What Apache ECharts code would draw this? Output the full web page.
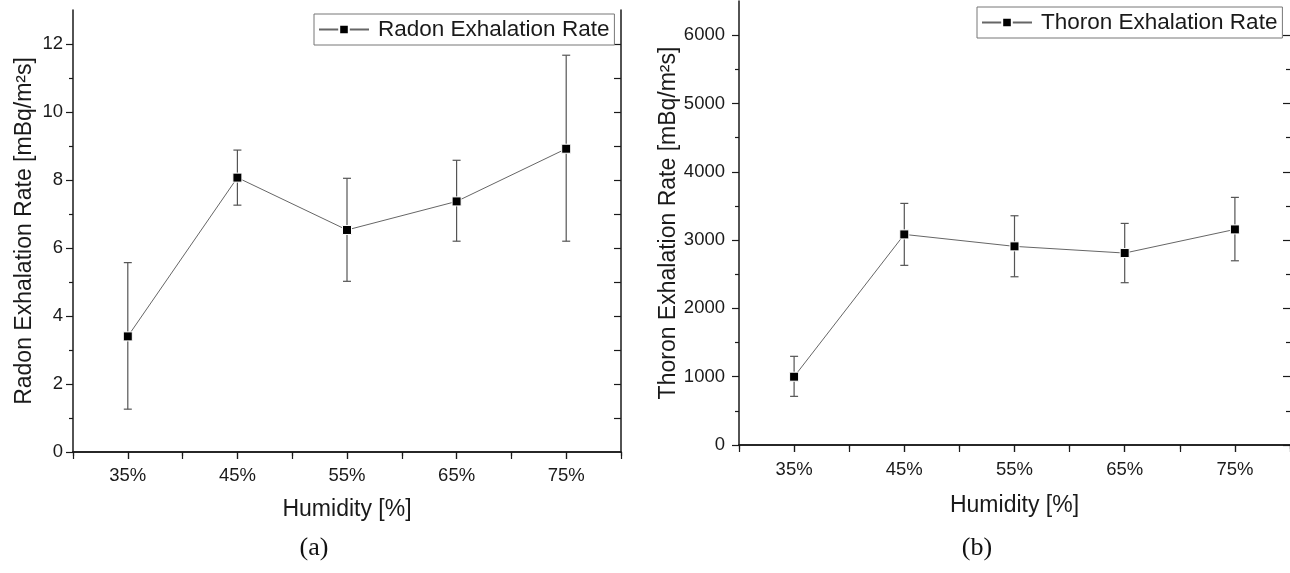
<!DOCTYPE html>
<html>
<head>
<meta charset="utf-8">
<script src="https://cdn.jsdelivr.net/npm/echarts@6/dist/echarts.min.js"></script>
<style>
  html, body { margin: 0; padding: 0; background: #fff; }
  #chart { width: 1290px; height: 573px; }
</style>
</head>
<body>
<div id="chart"></div>
<script>
// Humidity levels shared by both panels
const humidity = ['35%', '45%', '55%', '65%', '75%'];

// Panel (a): radon exhalation rate, mBq/m²s
const radonRate = [3.40, 8.07, 6.53, 7.37, 8.92];
const radonLow  = [1.26, 7.26, 5.02, 6.20, 6.20];
const radonHigh = [5.57, 8.88, 8.05, 8.58, 11.67];

// Panel (b): thoron exhalation rate, mBq/m²s
const thoronRate = [1000, 3083, 2908, 2810, 3156];
const thoronLow  = [712, 2630, 2463, 2376, 2697];
const thoronHigh = [1298, 3537, 3356, 3244, 3625];

// Tick values
const radonMajorTicks = [0, 2, 4, 6, 8, 10, 12];
const radonMinorTicks = [1, 3, 5, 7, 9, 11];
const radonRightTicks = [1, 2, 3, 4, 5, 6, 7, 8, 9, 10, 11, 12];
const thoronMajorTicks = [0, 1000, 2000, 3000, 4000, 5000, 6000];
const thoronMinorTicks = [500, 1500, 2500, 3500, 4500, 5500];

const FONT = '"Liberation Sans", Arial, sans-serif';
const AXIS_COLOR = '#1a1a1a';
const TEXT_COLOR = '#1a1a1a';
const TICK_FONT = 18.5;

function errorBarItem(params, api) {
  const x = api.value(0);
  const lo = api.coord([x, api.value(1)]);
  const hi = api.coord([x, api.value(2)]);
  const w = 4;
  const style = { stroke: '#555', lineWidth: 1.2 };
  return {
    type: 'group',
    children: [
      { type: 'line', shape: { x1: lo[0], y1: lo[1], x2: hi[0], y2: hi[1] }, style },
      { type: 'line', shape: { x1: lo[0] - w, y1: lo[1], x2: lo[0] + w, y2: lo[1] }, style },
      { type: 'line', shape: { x1: hi[0] - w, y1: hi[1], x2: hi[0] + w, y2: hi[1] }, style }
    ]
  };
}

const axisLine = { show: true, lineStyle: { color: AXIS_COLOR, width: 1.5 } };
const noLine = { show: false };
const plainNumber = (v) => String(v);

function xAxesFor(gridIndex, labelMargin, nameGap) {
  return [
    { // bottom: labels, ticks at category centres
      type: 'category', gridIndex, position: 'bottom', data: humidity, boundaryGap: true,
      axisLine,
      axisTick: { show: true, alignWithLabel: true, length: 7, lineStyle: { color: AXIS_COLOR, width: 1.2 } },
      axisLabel: { fontSize: TICK_FONT, color: TEXT_COLOR, fontFamily: FONT, margin: labelMargin },
      splitLine: { show: false },
      name: 'Humidity [%]', nameLocation: 'middle', nameGap,
      nameTextStyle: { fontSize: 23, color: TEXT_COLOR, fontFamily: FONT }
    },
    { // bottom: short ticks between categories
      type: 'value', gridIndex, position: 'bottom', min: 0, max: 5, interval: 1,
      axisLine: noLine,
      axisTick: { show: true, length: 4, lineStyle: { color: AXIS_COLOR, width: 1.2 } },
      axisLabel: { show: false }, splitLine: { show: false }
    },
    { // top frame with inward ticks
      type: 'value', gridIndex, position: 'top', min: 0, max: 10, interval: 1,
      axisLine,
      axisTick: { show: true, inside: true, length: 7, lineStyle: { color: AXIS_COLOR, width: 1.2 } },
      axisLabel: { show: false }, splitLine: { show: false }
    }
  ];
}

function legendFor(name, left, top) {
  return {
    data: [name], left, top, selectedMode: false,
    itemWidth: 50, itemHeight: 12, padding: [4, 5, 4, 4],
    borderColor: '#777', borderWidth: 1,
    textStyle: { fontSize: 22.5, color: TEXT_COLOR, fontFamily: FONT, padding: [0, 0, 0, 4] }
  };
}

const option = {
  backgroundColor: '#fff',
  animation: false,
  grid: [
    { left: 73, top: 10, width: 548, height: 442 },
    { left: 739, top: 1, width: 551, height: 444 }
  ],
  xAxis: [].concat(xAxesFor(0, 14, 46), xAxesFor(1, 15, 49)),
  yAxis: [
    { // (a) left: labels and major ticks
      type: 'value', gridIndex: 0, position: 'left', min: 0, max: 13,
      axisLine,
      axisTick: { show: true, length: 7, customValues: radonMajorTicks, lineStyle: { color: AXIS_COLOR, width: 1.2 } },
      axisLabel: { fontSize: TICK_FONT, color: TEXT_COLOR, fontFamily: FONT, margin: 10, customValues: radonMajorTicks, formatter: plainNumber },
      splitLine: { show: false },
      name: 'Radon Exhalation Rate [mBq/m²s]', nameLocation: 'middle', nameGap: 37,
      nameTextStyle: { fontSize: 23, color: TEXT_COLOR, fontFamily: FONT }
    },
    { // (a) left: minor ticks
      type: 'value', gridIndex: 0, position: 'left', min: 0, max: 13,
      axisLine: noLine,
      axisTick: { show: true, length: 4, customValues: radonMinorTicks, lineStyle: { color: AXIS_COLOR, width: 1.2 } },
      axisLabel: { show: false }, splitLine: { show: false }
    },
    { // (a) right frame
      type: 'value', gridIndex: 0, position: 'right', min: 0, max: 13,
      axisLine,
      axisTick: { show: true, inside: true, length: 7, customValues: radonRightTicks, lineStyle: { color: AXIS_COLOR, width: 1.2 } },
      axisLabel: { show: false }, splitLine: { show: false }
    },
    { // (b) left: labels and major ticks
      type: 'value', gridIndex: 1, position: 'left', min: 0, max: 6500,
      axisLine,
      axisTick: { show: true, length: 7, customValues: thoronMajorTicks, lineStyle: { color: AXIS_COLOR, width: 1.2 } },
      axisLabel: { fontSize: TICK_FONT, color: TEXT_COLOR, fontFamily: FONT, margin: 14, customValues: thoronMajorTicks, formatter: plainNumber },
      splitLine: { show: false },
      name: 'Thoron Exhalation Rate [mBq/m²s]', nameLocation: 'middle', nameGap: 55,
      nameTextStyle: { fontSize: 23, color: TEXT_COLOR, fontFamily: FONT }
    },
    { // (b) left: minor ticks
      type: 'value', gridIndex: 1, position: 'left', min: 0, max: 6500,
      axisLine: noLine,
      axisTick: { show: true, length: 4, customValues: thoronMinorTicks, lineStyle: { color: AXIS_COLOR, width: 1.2 } },
      axisLabel: { show: false }, splitLine: { show: false }
    },
    { // (b) right edge, major ticks (frame line lies on the page edge)
      type: 'value', gridIndex: 1, position: 'right', min: 0, max: 6500,
      axisLine: noLine,
      axisTick: { show: true, inside: true, length: 7, customValues: thoronMajorTicks, lineStyle: { color: AXIS_COLOR, width: 1.2 } },
      axisLabel: { show: false }, splitLine: { show: false }
    },
    { // (b) right edge, minor ticks
      type: 'value', gridIndex: 1, position: 'right', min: 0, max: 6500,
      axisLine: noLine,
      axisTick: { show: true, inside: true, length: 4, customValues: thoronMinorTicks, lineStyle: { color: AXIS_COLOR, width: 1.2 } },
      axisLabel: { show: false }, splitLine: { show: false }
    }
  ],
  legend: [
    legendFor('Radon Exhalation Rate', 314, 14),
    legendFor('Thoron Exhalation Rate', 977, 7)
  ],
  graphic: [
    { type: 'text', x: 314, y: 548, style: { text: '(a)', font: '26px "Liberation Serif", "Times New Roman", serif', fill: '#111', textAlign: 'center', textVerticalAlign: 'middle' } },
    { type: 'text', x: 977, y: 548, style: { text: '(b)', font: '26px "Liberation Serif", "Times New Roman", serif', fill: '#111', textAlign: 'center', textVerticalAlign: 'middle' } }
  ],
  series: [
    {
      type: 'custom', name: 'Radon error', xAxisIndex: 0, yAxisIndex: 0, z: 2,
      renderItem: errorBarItem,
      encode: { x: 0, y: [1, 2] },
      data: humidity.map((h, i) => [h, radonLow[i], radonHigh[i]])
    },
    {
      type: 'line', name: 'Radon Exhalation Rate', xAxisIndex: 0, yAxisIndex: 0, z: 3,
      data: radonRate, symbol: 'rect', symbolSize: 9,
      itemStyle: { color: '#000', borderColor: '#fff', borderWidth: 1 },
      lineStyle: { color: '#666', width: 1 }
    },
    {
      type: 'custom', name: 'Thoron error', xAxisIndex: 3, yAxisIndex: 3, z: 2,
      renderItem: errorBarItem,
      encode: { x: 0, y: [1, 2] },
      data: humidity.map((h, i) => [h, thoronLow[i], thoronHigh[i]])
    },
    {
      type: 'line', name: 'Thoron Exhalation Rate', xAxisIndex: 3, yAxisIndex: 3, z: 3,
      data: thoronRate, symbol: 'rect', symbolSize: 9,
      itemStyle: { color: '#000', borderColor: '#fff', borderWidth: 1 },
      lineStyle: { color: '#666', width: 1 }
    }
  ]
};

const chart = echarts.init(document.getElementById('chart'), null, { renderer: 'canvas' });
chart.setOption(option);
</script>
</body>
</html>
